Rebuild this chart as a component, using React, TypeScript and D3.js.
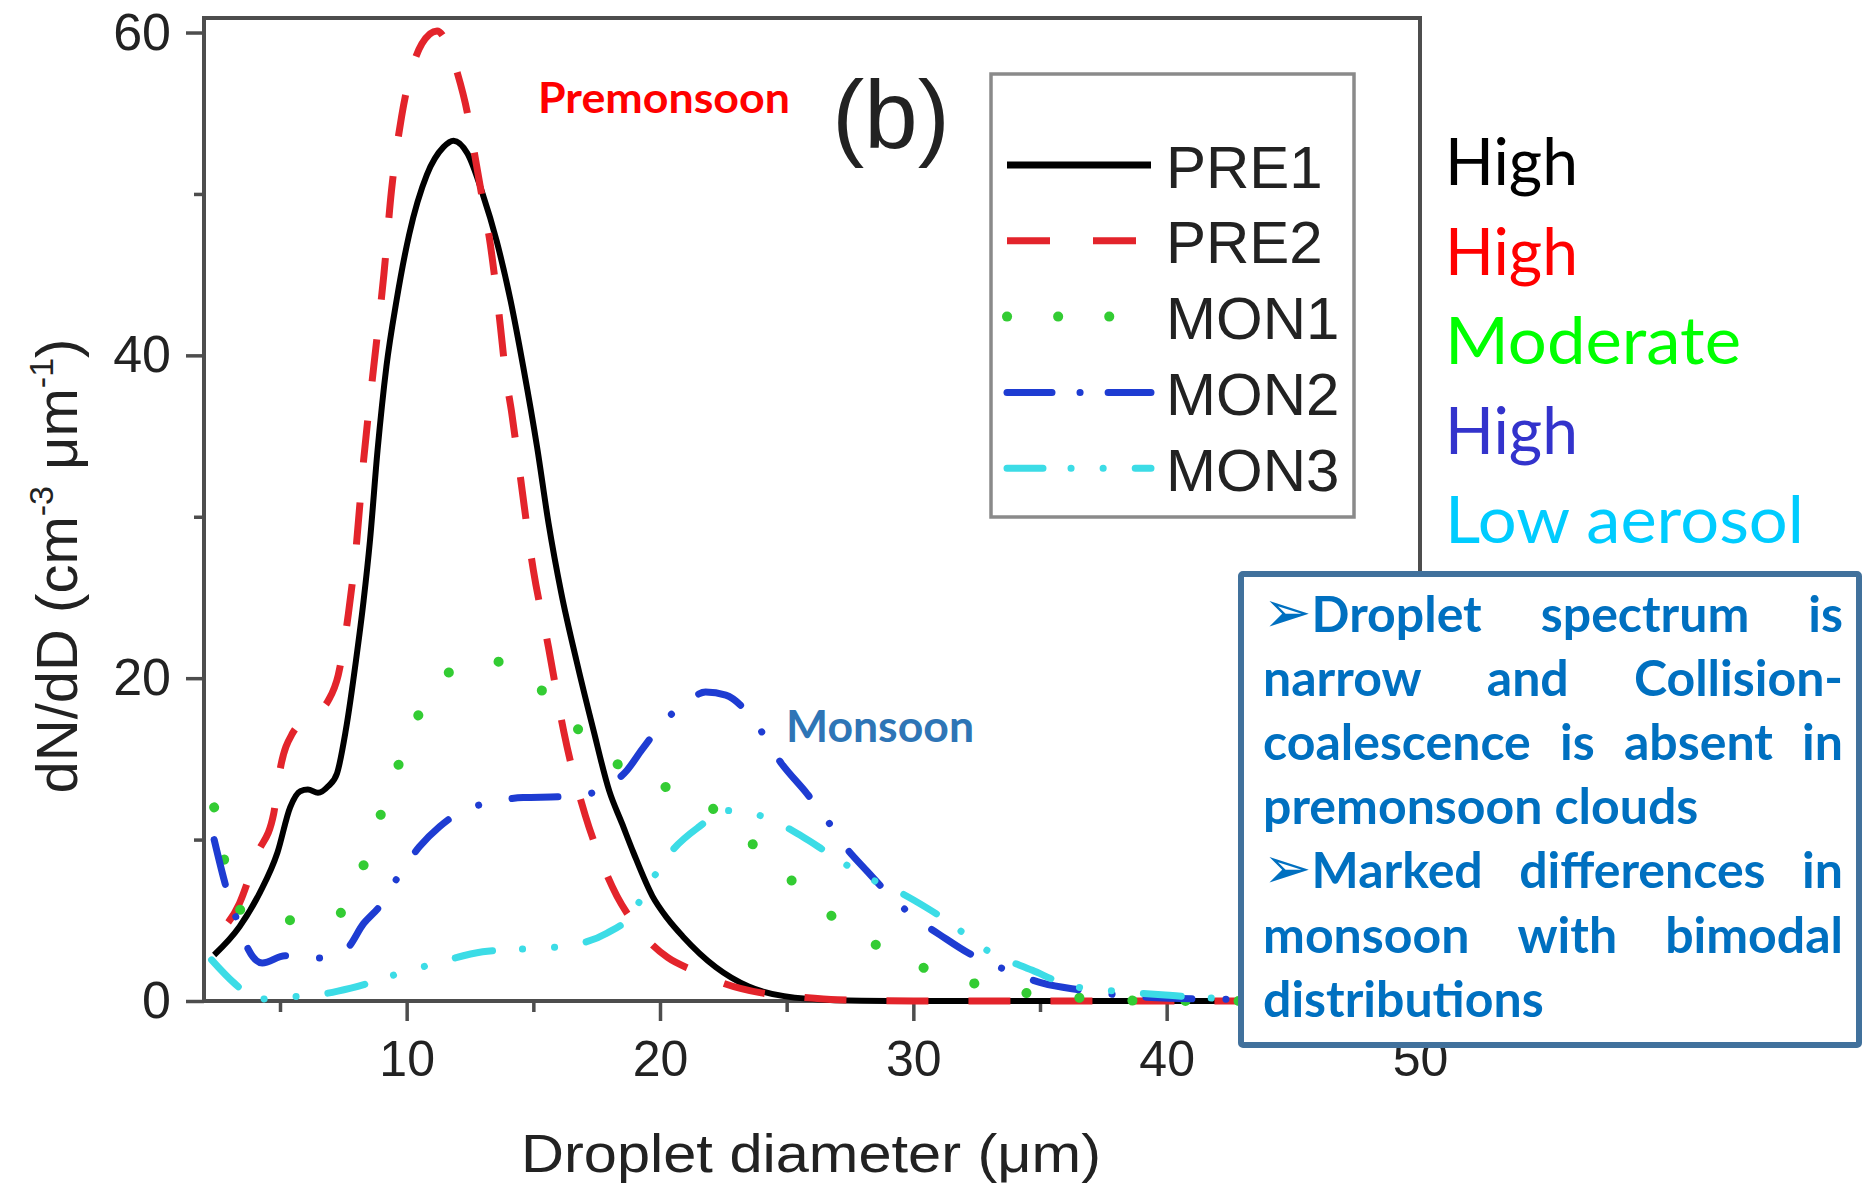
import React, { useEffect, useRef } from "react";
import * as d3 from "d3";

// droplet diameter (um) / dN/dD values
const pre1X = [2.4, 3.4, 4.2, 4.9, 5.4, 5.8, 6.1, 6.5, 6.9, 7.25, 7.6, 8.0, 8.3, 8.55, 8.85, 9.2, 9.6, 10.1, 10.8, 11.45, 11.85, 12.4, 13.0, 13.55, 14.1, 14.6, 15.15, 15.6, 16.1, 16.7, 17.37, 18.0, 18.5, 18.95, 19.7, 20.3, 20.9, 22.2, 23.5, 24.9, 26.9, 29, 35, 50];
const pre1Y = [2.85, 4.6, 6.7, 9.2, 12.0, 13.0, 13.1, 12.9, 13.3, 14.1, 16.8, 21.1, 24.8, 28.5, 34.1, 39.3, 43.4, 47.5, 51.2, 52.9, 53.3, 52.5, 50.0, 47.1, 43.4, 39.3, 34.3, 29.6, 25.3, 21.1, 16.8, 13.0, 11.0, 9.2, 6.5, 5.1, 4.0, 2.1, 0.9, 0.3, 0.05, 0, 0, 0];

const pre2X = [2.4, 3.4, 4.1, 4.75, 5.0, 5.5, 6.2, 6.9, 7.3, 7.7, 8.0, 8.3, 8.7, 9.1, 9.4, 9.8, 10.2, 10.6, 11.2, 11.6, 12.0, 12.4, 12.7, 13.0, 13.3, 13.5, 13.7, 13.9, 14.15, 14.35, 15.0, 15.6, 16.2, 17.05, 17.6, 18.3, 18.8, 19.5, 20.3, 21.3, 22.5, 24.0, 25.5, 27.0, 30, 50];
const pre2Y = [4.0, 6.05, 9.1, 11.6, 14.3, 16.6, 17.6, 18.6, 20.2, 24.0, 28.0, 33.5, 39.3, 45.0, 50.2, 54.8, 57.7, 59.3, 60.1, 59.3, 57.5, 55.0, 52.3, 49.6, 46.9, 44.5, 41.8, 38.9, 36.4, 34.1, 26.7, 21.9, 16.7, 11.5, 9.0, 6.5, 5.2, 3.8, 2.7, 1.9, 1.1, 0.5, 0.25, 0.08, 0, 0];

const mon1X = [2.4, 3.4, 4.2, 5.0, 6.0, 7.1, 7.7, 8.2, 8.9, 9.6, 10.4, 11.0, 11.7, 12.7, 13.75, 14.7, 15.6, 16.5, 17.5, 18.5, 19.5, 20.5, 21.6, 22.6, 23.6, 24.6, 25.6, 26.5, 27.5, 28.5, 29.6, 30.5, 31.5, 32.5, 33.5, 35.5, 37.5, 40, 50];
const mon1Y = [12.0, 5.7, 5.0, 5.0, 5.0, 5.1, 6.2, 8.0, 11.2, 14.3, 17.5, 19.2, 20.4, 21.1, 21.0, 20.2, 18.8, 17.3, 15.6, 14.5, 13.7, 13.1, 12.5, 11.2, 9.8, 8.3, 6.9, 5.6, 4.5, 3.5, 2.6, 2.0, 1.5, 1.05, 0.7, 0.35, 0.1, 0, 0];

const mon2X = [2.4, 2.9, 3.4, 3.75, 4.3, 5.2, 6.4, 7.6, 8.3, 8.95, 9.7, 10.5, 11.3, 12.1, 13.3, 14.6, 16.0, 16.9, 17.6, 18.7, 19.3, 20.1, 21.2, 21.8, 22.6, 23.6, 24.8, 25.8, 26.6, 27.1, 28.2, 29.3, 30.2, 31.05, 32.2, 33.7, 35.1, 36.6, 38.1, 40.1, 42.7, 50];
const mon2Y = [10.0, 6.9, 4.6, 3.2, 2.35, 2.8, 2.65, 3.2, 4.8, 5.9, 7.8, 9.55, 10.8, 11.7, 12.3, 12.6, 12.65, 12.75, 13.05, 14.3, 15.6, 17.2, 18.7, 19.15, 18.95, 17.6, 14.7, 12.85, 11.2, 10.0, 8.0, 6.2, 5.0, 4.1, 2.95, 1.9, 1.1, 0.68, 0.37, 0.17, 0.1, 0];

const mon3X = [2.3, 3.2, 4.1, 5.0, 6.0, 7.8, 9.7, 11.2, 13.0, 14.9, 16.3, 17.9, 18.8, 19.6, 20.5, 21.55, 22.6, 23.4, 24.3, 25.6, 26.6, 27.5, 28.4, 29.5, 30.5, 31.3, 32.9, 34.7, 36.2, 38.1, 40.1, 41.9, 44, 50];
const mon3Y = [2.55, 1.1, 0.1, 0.25, 0.3, 0.8, 1.7, 2.35, 3.05, 3.25, 3.4, 4.2, 5.2, 7.3, 9.35, 10.8, 11.8, 11.7, 11.3, 10.2, 9.2, 8.3, 7.5, 6.7, 5.8, 5.0, 3.15, 1.9, 0.95, 0.6, 0.35, 0.17, 0.1, 0];

const seriesNames = ["PRE1", "PRE2", "MON1", "MON2", "MON3"];
const seriesX = [pre1X, pre2X, mon1X, mon2X, mon3X];
const seriesY = [pre1Y, pre2Y, mon1Y, mon2Y, mon3Y];

const xTicksMajor = [10, 20, 30, 40, 50];
const xTicksMinor = [5, 15, 25, 35, 45];
const yTicksMajor = [0, 20, 40, 60];
const yTicksMinor = [10, 30, 50];

const aerosolLabels = ["High", "High", "Moderate", "High", "Low aerosol"];
const noteLines = [
  "➢Droplet spectrum is",
  "narrow and Collision-",
  "coalescence is absent in",
  "premonsoon clouds",
  "➢Marked differences in",
  "monsoon with bimodal",
  "distributions",
];

// styles
const seriesStyle = {
  PRE1: { color: "#000000", width: 6, dash: null, legendDash: null, cap: "butt", gapAt: null },
  PRE2: { color: "#e3242b", width: 7, dash: "42,40", legendDash: "43,43", cap: "butt", gapAt: 6.2 },
  MON1: { color: "#33cc33", width: 10, dash: "0.1,53", legendDash: "0.1,51", cap: "round", gapAt: null },
  MON2: { color: "#1e3cd2", width: 7, dash: "46,34,0.1,34", legendDash: "45,28,0.1,28", cap: "round", gapAt: null },
  MON3: { color: "#3cdce6", width: 7, dash: "38,30,0.1,32,0.1,32", legendDash: "36,28,0.1,32,0.1,32", cap: "round", gapAt: null },
};
const aerosolColors = ["#000000", "#ff0000", "#00ff00", "#3333cc", "#00ccff"];
const aerosolWidths = [133, 133, 296, 133, 359];

const W = 1862, H = 1189;
const plot = { left: 204, right: 1420, top: 18, bottom: 1001 };
const axisColor = "#4d4d4d";
const sans = "'Liberation Sans', Arial, sans-serif";
const calibri = "Lato, 'Open Sans', sans-serif";

export default function App() {
  const svgRef = useRef<SVGSVGElement>(null);

  useEffect(() => {
    const svg = d3.select(svgRef.current);
    svg.selectAll("*").remove();

    const x = d3.scaleLinear().domain([2, 50]).range([plot.left, plot.right]);
    const y = d3.scaleLinear().domain([0, 60.9]).range([plot.bottom, plot.top]);

    svg.append("rect").attr("width", W).attr("height", H).attr("fill", "#fff");

    // ticks (major + minor), outward
    const addAxis = (axis, tr) => {
      const g = svg.append("g").attr("transform", tr).call(axis);
      g.select(".domain").remove();
      g.selectAll("line").attr("stroke", axisColor).attr("stroke-width", 3.5);
      g.selectAll("text").attr("font-family", sans).attr("fill", "#222");
      return g;
    };
    addAxis(d3.axisBottom(x).tickValues(xTicksMajor).tickSize(20).tickPadding(19).tickFormat(d3.format("d")), `translate(0,${plot.bottom})`)
      .selectAll("text").attr("font-size", 50);
    addAxis(d3.axisBottom(x).tickValues(xTicksMinor).tickSize(11).tickFormat(() => ""), `translate(0,${plot.bottom})`);
    addAxis(d3.axisLeft(y).tickValues(yTicksMajor).tickSize(18).tickPadding(15).tickFormat(d3.format("d")), `translate(${plot.left},0)`)
      .selectAll("text").attr("font-size", 52);
    addAxis(d3.axisLeft(y).tickValues(yTicksMinor).tickSize(10).tickFormat(() => ""), `translate(${plot.left},0)`);

    // frame
    svg.append("rect")
      .attr("x", plot.left).attr("y", plot.top)
      .attr("width", plot.right - plot.left).attr("height", plot.bottom - plot.top)
      .attr("fill", "none").attr("stroke", axisColor).attr("stroke-width", 4);

    // axis titles
    svg.append("text")
      .attr("x", (plot.left + plot.right) / 2 - 1).attr("y", 1172)
      .attr("text-anchor", "middle").attr("font-family", sans).attr("font-size", 53)
      .attr("fill", "#222").attr("textLength", 580).attr("lengthAdjust", "spacingAndGlyphs")
      .text("Droplet diameter (\u03bcm)");

    const yt = svg.append("text")
      .attr("transform", "translate(77,566) rotate(-90)")
      .attr("text-anchor", "middle").attr("font-family", sans).attr("font-size", 58).attr("fill", "#222");
    yt.append("tspan").text("dN/dD (cm");
    yt.append("tspan").attr("dy", -24).attr("font-size", 34).text("-3");
    yt.append("tspan").attr("dy", 24).text("  \u03bcm");
    yt.append("tspan").attr("dy", -24).attr("font-size", 34).text("-1");
    yt.append("tspan").attr("dy", 24).text(")");

    // curves
    const line = d3.line<[number, number]>()
      .x(d => x(d[0])).y(d => y(d[1]))
      .curve(d3.curveMonotoneX);
    seriesNames.forEach((name, i) => {
      const st = seriesStyle[name];
      const pts = seriesX[i].map((v, j) => [v, seriesY[i][j]] as [number, number]);
      const p = svg.append("path")
        .attr("d", line(pts))
        .attr("fill", "none")
        .attr("stroke", st.color)
        .attr("stroke-width", st.width)
        .attr("stroke-linecap", st.cap)
        .attr("stroke-linejoin", "round")
        .attr("stroke-dasharray", st.dash);
      if (st.gapAt != null) {
        // shift the dash phase so the given x falls inside a gap, as in the original
        const node = p.node() as SVGPathElement;
        const target = x(st.gapAt);
        let lo = 0, hi = node.getTotalLength();
        for (let k = 0; k < 40; k++) {
          const mid = (lo + hi) / 2;
          if (node.getPointAtLength(mid).x < target) lo = mid; else hi = mid;
        }
        const parts = st.dash.split(",").map(Number);
        const period = d3.sum(parts);
        const gapMid = parts[0] + parts[1] / 2;
        p.attr("stroke-dashoffset", ((gapMid - lo) % period + period) % period);
      }
    });

    // legend
    const lg = svg.append("g");
    lg.append("rect").attr("x", 991).attr("y", 74).attr("width", 363).attr("height", 443)
      .attr("fill", "#fff").attr("stroke", "#8a8a8a").attr("stroke-width", 3.5);
    seriesNames.forEach((name, i) => {
      const st = seriesStyle[name];
      const ry = 165 + i * 75.8;
      lg.append("line").attr("x1", 1007).attr("x2", 1151).attr("y1", ry).attr("y2", ry)
        .attr("stroke", st.color).attr("stroke-width", name === "PRE1" ? 7 : st.width)
        .attr("stroke-linecap", st.cap).attr("stroke-dasharray", st.legendDash);
      lg.append("text").attr("x", 1166).attr("y", ry + 22.5)
        .attr("font-family", sans).attr("font-size", 60).attr("fill", "#222").text(name);
    });

    svg.append("text").attr("x", 891).attr("y", 148).attr("text-anchor", "middle")
      .attr("font-family", sans).attr("font-size", 96).attr("fill", "#222").text("(b)");

    svg.append("text").attr("x", 538).attr("y", 113)
      .attr("font-family", calibri).attr("font-weight", 700).attr("font-size", 42)
      .attr("textLength", 252).attr("lengthAdjust", "spacingAndGlyphs")
      .attr("fill", "#ff0000").text("Premonsoon");
    svg.append("text").attr("x", 786).attr("y", 742)
      .attr("font-family", calibri).attr("font-weight", 700).attr("font-size", 43)
      .attr("textLength", 188).attr("lengthAdjust", "spacingAndGlyphs")
      .attr("fill", "#2e75b6").text("Monsoon");

    // aerosol labels
    aerosolLabels.forEach((lab, i) => {
      svg.append("text").attr("x", 1445).attr("y", 185 + i * 89.5)
        .attr("font-family", calibri).attr("font-size", 66)
        .attr("textLength", aerosolWidths[i]).attr("lengthAdjust", "spacingAndGlyphs")
        .attr("fill", aerosolColors[i]).text(lab);
    });

    // note box
    const box = { x: 1241, y: 574, w: 618, h: 471 };
    svg.append("rect").attr("x", box.x).attr("y", box.y).attr("width", box.w).attr("height", box.h)
      .attr("rx", 2).attr("fill", "#fff").attr("stroke", "#41719c").attr("stroke-width", 6);
    const left = 1263, right = 1843;
    const ng = svg.append("g").attr("font-family", calibri).attr("font-weight", 700)
      .attr("font-size", 50).attr("fill", "#0070c0");
    noteLines.forEach((ln, i) => {
      const bullet = ln.startsWith("➢");
      const words = (bullet ? ln.slice(1) : ln).split(" ");
      const next = noteLines[i + 1];
      const justify = next !== undefined && !next.startsWith("➢");
      const yPos = 632 + i * 64.1;
      const nodes = words.map((w, j) => {
        const t = ng.append("text").attr("y", yPos);
        if (j === 0 && bullet) {
          t.append("tspan").attr("font-family", "'DejaVu Sans', sans-serif").attr("font-weight", 400)
            .attr("font-size", 58).text("➢");
        }
        t.append("tspan").text(w);
        return t;
      });
      const widths = nodes.map(n => (n.node() as SVGTextElement).getComputedTextLength());
      const total = d3.sum(widths);
      const gap = justify && words.length > 1 ? (right - left - total) / (words.length - 1) : 12;
      let cx = left;
      nodes.forEach((n, j) => {
        n.attr("x", cx);
        cx += widths[j] + gap;
      });
    });
  }, []);

  return (
    <div style={{ position: "absolute", left: 0, top: 0, width: W, height: H, background: "#fff" }}>
      <svg ref={svgRef} width={W} height={H} style={{ display: "block" }}></svg>
    </div>
  );
}
